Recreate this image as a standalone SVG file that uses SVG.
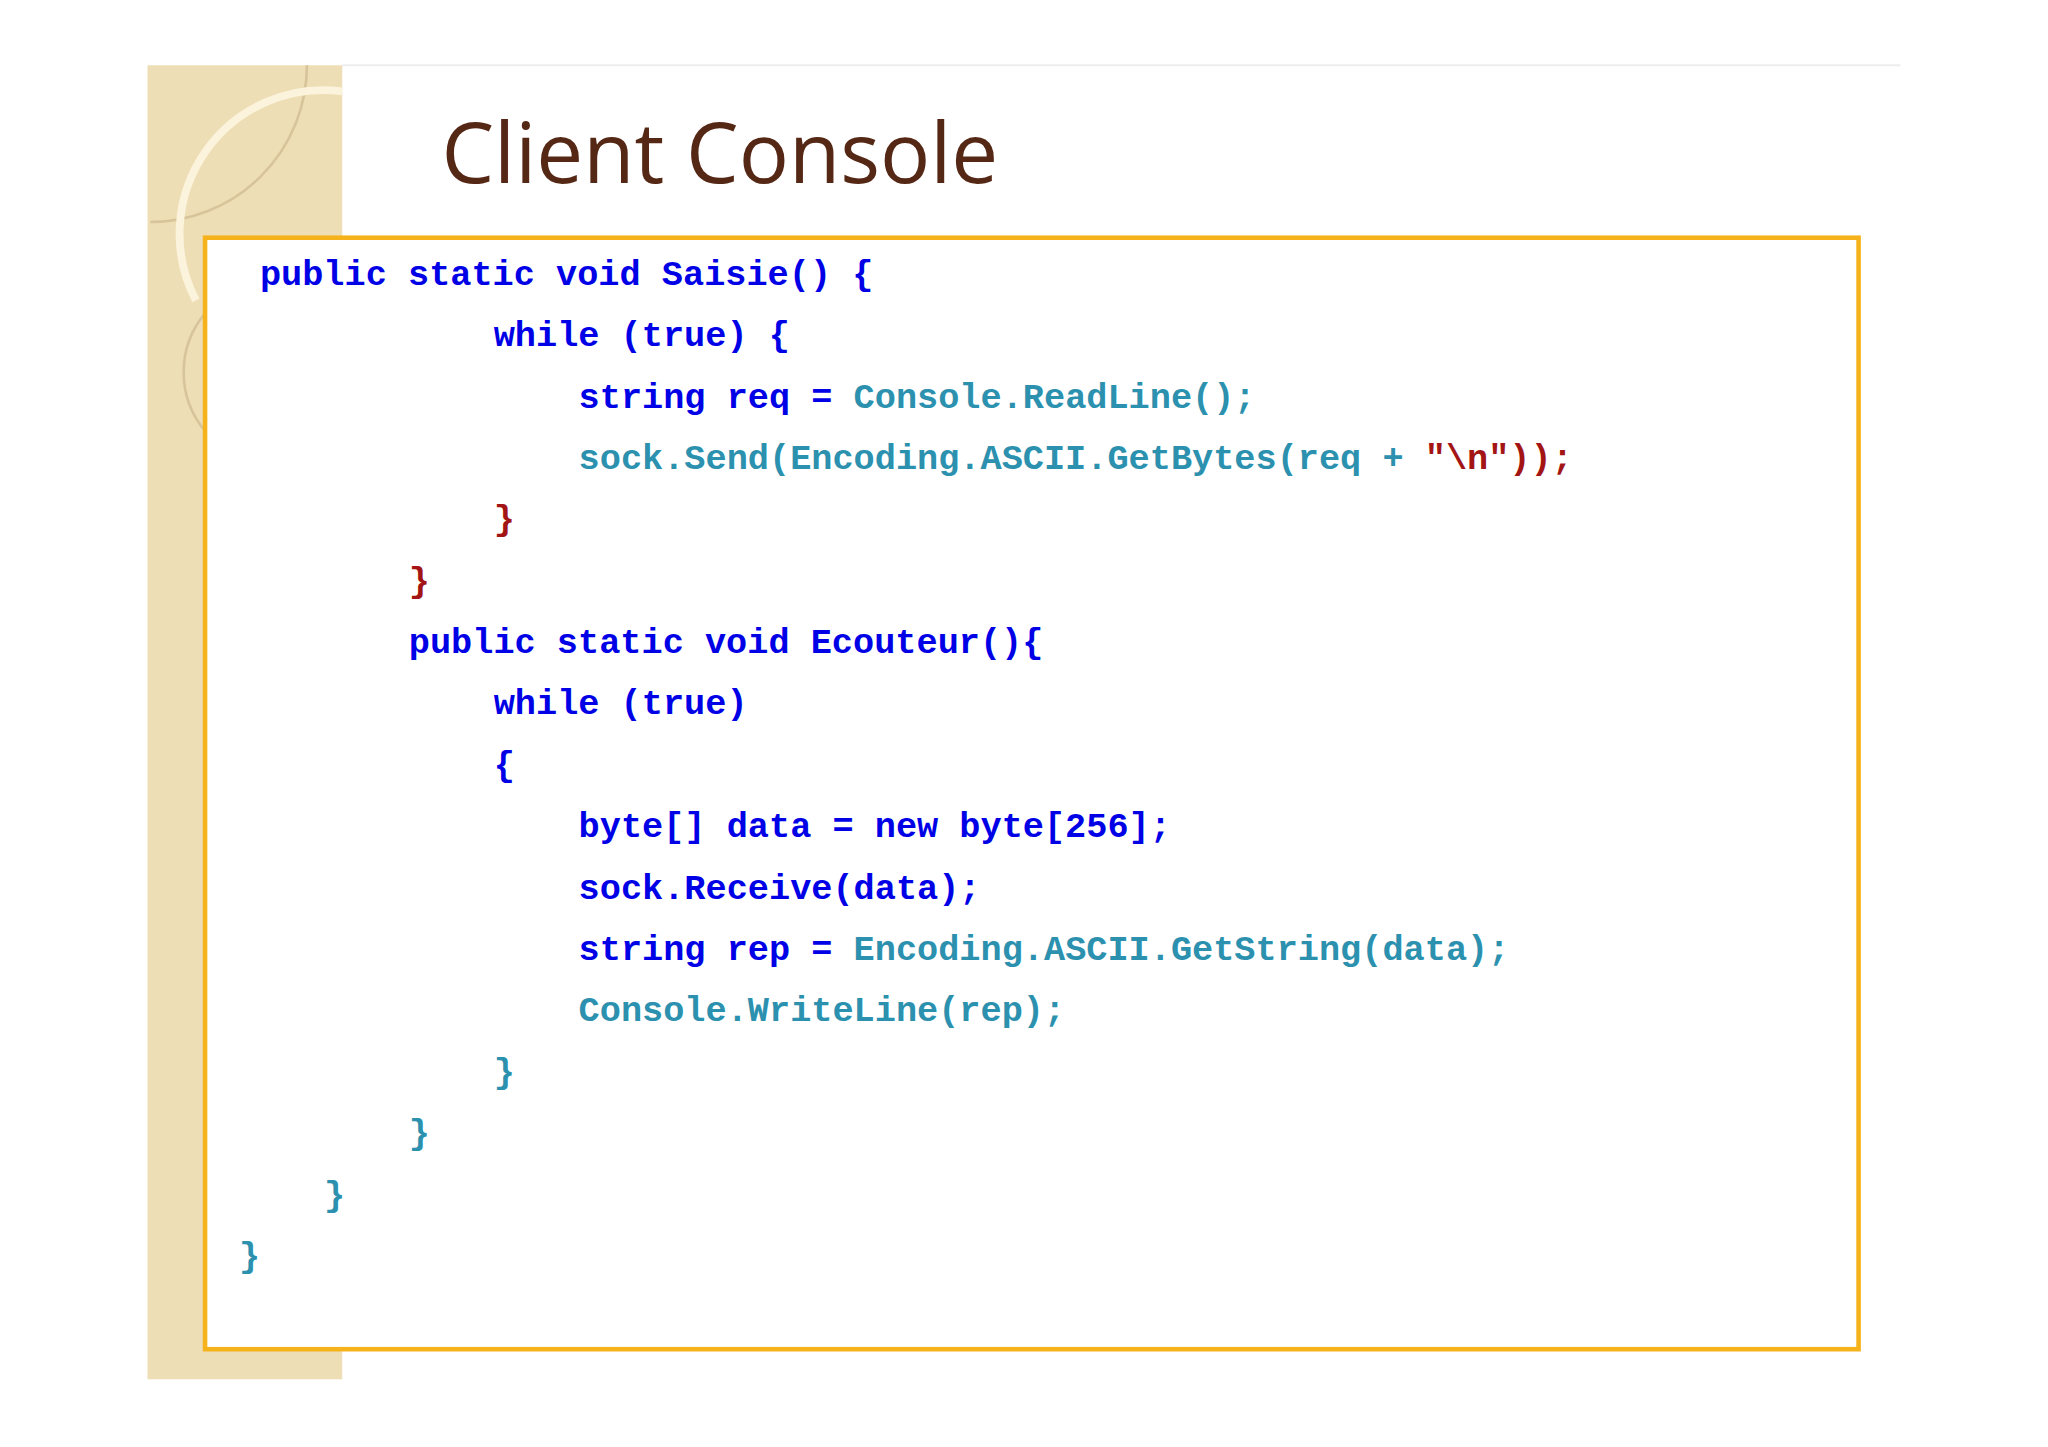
<svg xmlns="http://www.w3.org/2000/svg" width="2048" height="1447" viewBox="0 0 2048 1447">
<style>
.c{font-family:"Liberation Mono","DejaVu Sans Mono",monospace;font-weight:bold;font-size:27px;white-space:pre}
.k{fill:#0000e6}.t{fill:#2b91af}.r{fill:#a31515}
</style>
<rect width="2048" height="1447" fill="#ffffff"/>
<g transform="scale(1.3061)">
<g id="background">
<rect x="113" y="50" width="149" height="1006" fill="#f1e2bc"/>
<rect x="113" y="50" width="149" height="1006" fill="#e8d3a0" opacity="0.25"/>
<line x1="262" y1="50" x2="1455" y2="50" stroke="#eeeeee" stroke-width="1.5"/>
<path d="M115 170 A120 120 0 0 0 235 50" fill="none" stroke="#d8c49a" stroke-width="2"/>
<path d="M150 230 A110 110 0 0 1 262 70" fill="none" stroke="#fbf3dc" stroke-width="6"/>
<path d="M157 240 A70 70 0 0 0 157 330" fill="none" stroke="#d8c49a" stroke-width="2"/>
</g>
<g id="title">
<text x="338" y="140" font-family="'Open Sans','Liberation Sans',sans-serif" font-size="64" fill="#552815">Client Console</text>
</g>
<g id="codebox">
<rect x="157" y="182" width="1266" height="851" fill="#ffffff" stroke="#f6b21a" stroke-width="3.5"/>
<text class="c k" x="199" y="218">public static void Saisie() {</text>
<text class="c k" x="378" y="265">while (true) {</text>
<text class="c" x="443" y="312"><tspan class="k">string req = </tspan><tspan class="t">Console.ReadLine();</tspan></text>
<text class="c" x="443" y="359"><tspan class="t">sock.Send(Encoding.ASCII.GetBytes(req + </tspan><tspan class="r">"\n"));</tspan></text>
<text class="c r" x="378" y="406">}</text>
<text class="c r" x="313" y="453">}</text>
<text class="c k" x="313" y="500">public static void Ecouteur(){</text>
<text class="c k" x="378" y="547">while (true)</text>
<text class="c k" x="378" y="594">{</text>
<text class="c k" x="443" y="641">byte[] data = new byte[256];</text>
<text class="c k" x="443" y="688">sock.Receive(data);</text>
<text class="c" x="443" y="735"><tspan class="k">string rep = </tspan><tspan class="t">Encoding.ASCII.GetString(data);</tspan></text>
<text class="c t" x="443" y="782">Console.WriteLine(rep);</text>
<text class="c t" x="378" y="829">}</text>
<text class="c t" x="313" y="876">}</text>
<text class="c t" x="248" y="923">}</text>
<text class="c t" x="183" y="970">}</text>
</g>
</g>
</svg>
